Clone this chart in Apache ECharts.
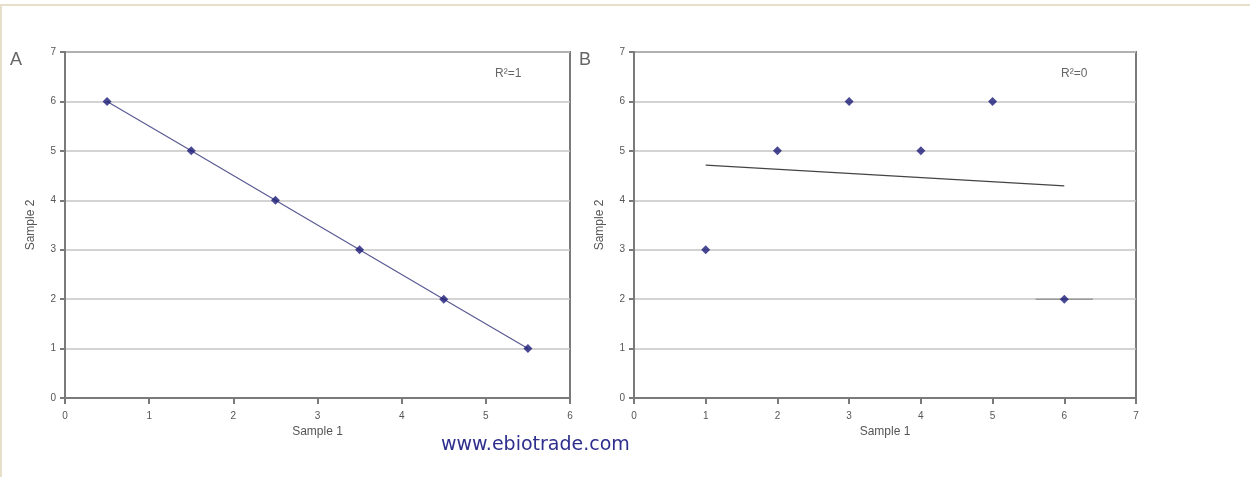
<!DOCTYPE html>
<html><head><meta charset="utf-8">
<script src="https://cdn.jsdelivr.net/npm/echarts@6/dist/echarts.min.js"></script>
<style>html,body{margin:0;padding:0;background:#fff;}#c{width:1250px;height:477px;}</style>
</head><body><div id="c"></div>
<script>
// Panel A data
const aX = [0.5, 1.5, 2.5, 3.5, 4.5, 5.5];
const aY = [6, 5, 4, 3, 2, 1];
// Panel B data
const bX = [1, 2, 3, 4, 5, 6];
const bY = [3, 5, 6, 5, 6, 2];
// Panel B trend line endpoints
const bTrendX = [1, 6];
const bTrendY = [4.71, 4.29];
// short stray segment near last B point
const bStrayX = [5.6, 6.4];
const bStrayY = [2, 2];
const xTicksA = [0, 1, 2, 3, 4, 5, 6];
const xTicksB = [0, 1, 2, 3, 4, 5, 6, 7];
const yTicks = [0, 1, 2, 3, 4, 5, 6, 7];

const zip = (xs, ys) => xs.map((x, i) => [x, ys[i]]);
const axisCol = '#7a7a7a';
const labelStyle = {color: '#555', fontSize: 10, fontFamily: 'Liberation Sans, Arial'};
const nameStyle = {color: '#555', fontSize: 12, fontFamily: 'Liberation Sans, Arial'};

function xAxis(gi, ticks) {
  return {
    type: 'value', gridIndex: gi, min: ticks[0], max: ticks[ticks.length - 1], interval: 1,
    name: 'Sample 1', nameLocation: 'middle', nameGap: 26, nameTextStyle: nameStyle,
    axisLine: {show: true, onZero: false, lineStyle: {color: axisCol, width: 2}},
    axisTick: {show: true, length: 6, lineStyle: {color: axisCol, width: 2}},
    axisLabel: Object.assign({margin: 13}, labelStyle),
    splitLine: {show: false}
  };
}
function yAxis(gi) {
  return {
    type: 'value', gridIndex: gi, min: yTicks[0], max: yTicks[yTicks.length - 1], interval: 1,
    name: 'Sample 2', nameLocation: 'middle', nameGap: 28, nameTextStyle: nameStyle,
    axisLine: {show: true, onZero: false, lineStyle: {color: axisCol, width: 2}},
    axisTick: {show: true, length: 5, lineStyle: {color: axisCol, width: 2}},
    axisLabel: Object.assign({margin: 9}, labelStyle),
    splitLine: {show: true, lineStyle: {color: '#c4c4c4', width: 1.5}}
  };
}

const chart = echarts.init(document.getElementById('c'), null, {renderer: 'canvas'});
const mark = {symbol: 'diamond', symbolSize: 9, itemStyle: {color: '#1c1c78'}};
chart.setOption({
  animation: false,
  backgroundColor: '#fff',
  grid: [
    {left: 65, top: 52, width: 505, height: 346, show: true, borderColor: axisCol, borderWidth: 2, backgroundColor: 'transparent'},
    {left: 634, top: 52, width: 502, height: 346, show: true, borderColor: axisCol, borderWidth: 2, backgroundColor: 'transparent'}
  ],
  xAxis: [xAxis(0, xTicksA), xAxis(1, xTicksB)],
  yAxis: [yAxis(0), yAxis(1)],
  series: [
    {type: 'line', xAxisIndex: 0, yAxisIndex: 0, data: zip(aX, aY), symbol: 'none',
     lineStyle: {color: '#5a5a94', width: 1.2}, z: 3},
    Object.assign({type: 'scatter', xAxisIndex: 0, yAxisIndex: 0, data: zip(aX, aY), z: 4}, mark),
    {type: 'line', xAxisIndex: 1, yAxisIndex: 1, data: zip(bTrendX, bTrendY), symbol: 'none',
     lineStyle: {color: '#444', width: 1.2}, z: 3},
    {type: 'line', xAxisIndex: 1, yAxisIndex: 1, data: zip(bStrayX, bStrayY), symbol: 'none',
     lineStyle: {color: '#9a9a9a', width: 1.5}, z: 3},
    Object.assign({type: 'scatter', xAxisIndex: 1, yAxisIndex: 1, data: zip(bX, bY), z: 4}, mark)
  ],
  graphic: [
    {type: 'rect', shape: {x: 0, y: 4, width: 1250, height: 2}, style: {fill: '#e6dfca'}, silent: true},
    {type: 'rect', shape: {x: 0, y: 4, width: 2, height: 473}, style: {fill: '#e6dfca'}, silent: true},
    {type: 'text', left: 10, top: 51, style: {text: 'A', fill: '#666', font: '18px Liberation Sans, Arial'}},
    {type: 'text', left: 579, top: 51, style: {text: 'B', fill: '#666', font: '18px Liberation Sans, Arial'}},
    {type: 'text', left: 495, top: 68, style: {text: 'R²=1', fill: '#666', font: '12px Liberation Sans, Arial'}},
    {type: 'text', left: 1061, top: 68, style: {text: 'R²=0', fill: '#666', font: '12px Liberation Sans, Arial'}},
    {type: 'text', left: 441, top: 436, style: {text: 'www.ebiotrade.com', fill: '#2e2e8e', font: '19px DejaVu Sans, Arial'}}
  ]
});
</script></body></html>
